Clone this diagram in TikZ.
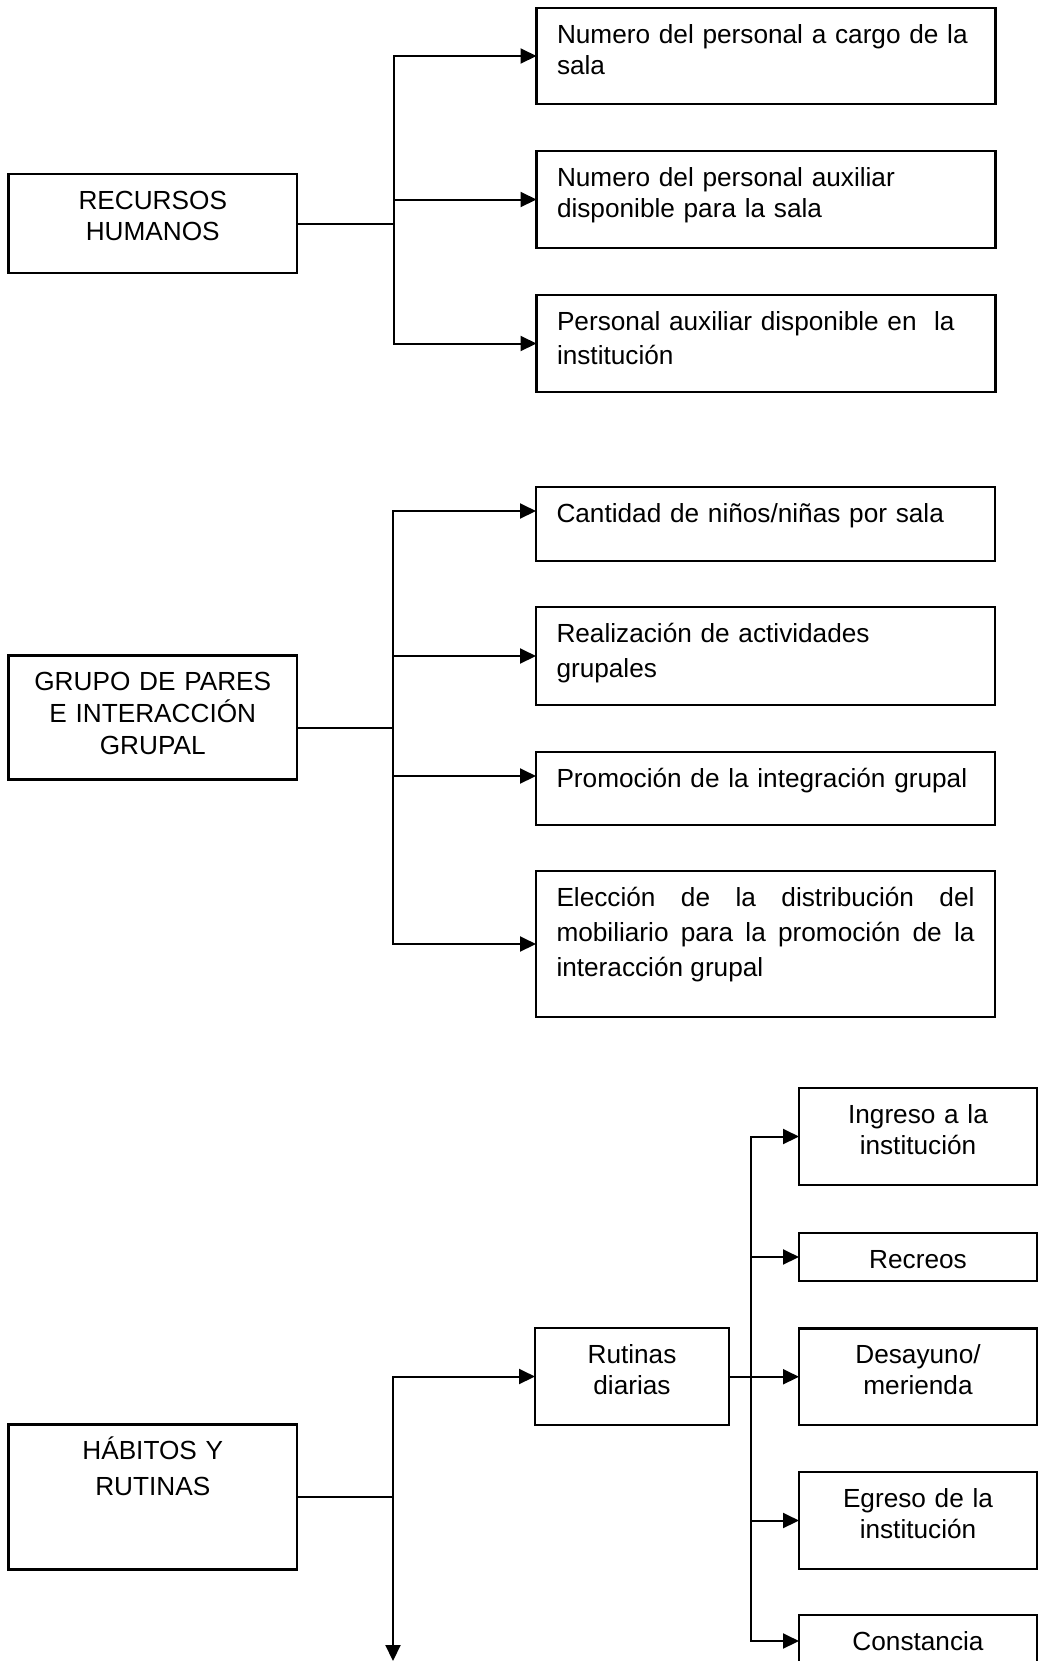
\documentclass[tikz,border=0pt]{standalone}
\usepackage{fontspec}
\setmainfont{Liberation Sans}
\usetikzlibrary{arrows.meta}
\hyphenpenalty=10000
\exhyphenpenalty=10000
\tolerance=10000

\tikzset{
  mainbox/.style={draw, line width=1.3pt, anchor=north west, inner ysep=0pt, outer sep=0pt,
    font=\fontsize{13.1}{15.5}\selectfont, text height=17.5pt},
  leftbox/.style={mainbox, inner xsep=0pt, text width=144.25pt, align=center},
  itembox/.style={mainbox, inner xsep=10.25pt, text width=209pt, align=left},
  subbox/.style={mainbox, inner xsep=0pt, align=center},
  link/.style={line width=1pt},
  tolink/.style={link, -{Triangle[length=8pt,width=7.5pt]}},
}

\begin{document}
\begin{tikzpicture}[x=0.5pt, y=-0.5pt]
\useasboundingbox (0,0) rectangle (1040,1661);

% recursos humanos
\node[leftbox, text depth=32pt] (rh) at(8.5,174) {RECURSOS\\HUMANOS};
\node[itembox, text depth=30.5pt] (n1) at(536.5,8) {Numero del personal a cargo de la\\sala};
\node[itembox, text depth=31pt] (n2) at(536.5,151) {Numero del personal auxiliar\\disponible para la sala};
\node[itembox, text depth=31pt, font=\fontsize{13.1}{17}\selectfont] (n3) at(536.5,295) {Personal auxiliar disponible en~ la\\institución};

\coordinate (rhfork) at(394,223.5);
\draw[link] (rh.east) -- (rhfork);
\draw[tolink] (rhfork) |- (n1.west);
\draw[tolink] (rhfork) |- (n2.west);
\draw[tolink] (rhfork) |- (n3.west);

% grupo de pares
\node[leftbox, text depth=44.5pt, font=\fontsize{13.1}{16}\selectfont] (gp) at(8.5,655.5) {GRUPO DE PARES\\E INTERACCIÓN\\GRUPAL};
\node[itembox, text depth=19.5pt] (can) at(536,487) {Cantidad de niños/niñas por sala};
\node[itembox, text depth=31.5pt, font=\fontsize{13.1}{17.5}\selectfont] (rea) at(536,607) {Realización de actividades\\grupales};
\node[itembox, text depth=19pt] (pro) at(536,752) {Promoción de la integración grupal};
\node[itembox, text depth=55.5pt, align=justify, font=\fontsize{13.1}{17.5}\selectfont] (ele) at(536,871) {Elección de la distribución del mobiliario para la promoción de la interacción grupal};

\coordinate (gpfork) at(393,727.5);
\draw[link] ([yshift=-5pt]gp.east) -- (gpfork);
\draw[tolink] (gpfork) |- ([yshift=6.5pt]can.west);
\draw[tolink] (gpfork) |- (rea.west);
\draw[tolink] (gpfork) |- ([yshift=6.25pt]pro.west);
\draw[tolink] (gpfork) |- (ele.west);

% habitos y rutinas
\node[leftbox, text depth=55pt, font=\fontsize{13.1}{18}\selectfont] (hr) at(8.5,1424.5) {HÁBITOS Y\\RUTINAS};
\node[subbox, text width=97pt, text depth=31pt] (rut) at(535,1328) {Rutinas\\diarias};
\node[subbox, text width=119pt, text depth=31pt] (ing) at(799,1088) {Ingreso a la\\institución};
\node[subbox, text width=119pt, text depth=6.5pt] (rec) at(799,1233) {Recreos};
\node[subbox, text width=119pt, text depth=30.75pt] (des) at(799,1328.5) {Desayuno/\\merienda};
\node[subbox, text width=119pt, text depth=31pt] (egr) at(799,1472) {Egreso de la\\institución};
\node[subbox, text width=119pt, text depth=8.5pt] (con) at(799,1615) {Constancia};

\coordinate (hrfork) at(393,1497);
\coordinate (hrend) at(393,1661);
\draw[link] (hr.east) -- (hrfork);
\draw[tolink] (hrfork) |- (rut.west);
\draw[tolink] (hrfork) -- (hrend);

\coordinate (rutfork) at(751,1376.5);
\draw[link] (rut.east) -- (rutfork);
\draw[tolink] (rutfork) |- (ing.west);
\draw[tolink] (rutfork) |- (rec.west);
\draw[tolink] (rutfork) |- (des.west);
\draw[tolink] (rutfork) |- (egr.west);
\draw[tolink] (rutfork) |- (con.west);

\end{tikzpicture}
\end{document}
